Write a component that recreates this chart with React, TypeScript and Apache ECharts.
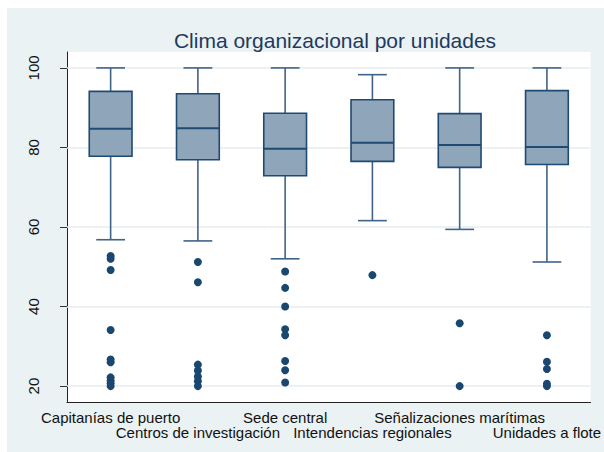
import React, { useEffect, useRef } from "react";
import * as echarts from "echarts";

const categories = [
  "Capitanías de puerto",
  "Centros de investigación",
  "Sede central",
  "Intendencias regionales",
  "Señalizaciones marítimas",
  "Unidades a flote",
];
const lowerWhisker = [56.8, 56.5, 52.0, 61.6, 59.4, 51.2];
const q1 = [77.8, 76.9, 72.9, 76.5, 75.0, 75.7];
const median = [84.7, 84.8, 79.7, 81.2, 80.6, 80.1];
const q3 = [94.1, 93.5, 88.6, 92.0, 88.5, 94.3];
const upperWhisker = [100, 100, 100, 98.3, 100, 100];
const outliers: number[][] = [
  [52.7, 52.0, 49.2, 34.1, 26.7, 26.0, 22.2, 21.4, 20.7, 20.0],
  [51.2, 46.1, 25.4, 23.9, 22.4, 21.2, 20.0],
  [48.8, 44.7, 40.0, 34.3, 32.8, 26.3, 24.0, 20.9],
  [47.9],
  [35.8, 20.0],
  [32.8, 26.1, 24.3, 20.6, 20.0],
];
const yTicks = [20, 40, 60, 80, 100];

export default function App() {
  const ref = useRef<HTMLDivElement>(null);
  useEffect(() => {
    if (!ref.current) return;
    const chart = echarts.init(ref.current, undefined, { renderer: "svg" });
    const boxData = categories.map((_, i) => [
      i,
      lowerWhisker[i],
      q1[i],
      median[i],
      q3[i],
      upperWhisker[i],
    ]);
    const outlierData: number[][] = [];
    outliers.forEach((arr, i) => arr.forEach((v) => outlierData.push([i, v])));

    const whiskerColor = "#3f6389";
    const boxBorder = "#1f4a72";

    chart.setOption({
      animation: false,
      backgroundColor: "#eaf2f3",
      title: {
        text: "Clima organizacional por unidades",
        left: 323,
        top: 17,
        textAlign: "center",
        textStyle: {
          fontFamily: "Liberation Sans, Arial, sans-serif",
          fontSize: 21,
          fontWeight: "normal",
          color: "#1e3a5f",
        },
      },
      grid: {
        left: 60,
        right: 12,
        top: 44,
        bottom: 50,
        show: true,
        backgroundColor: "#ffffff",
        borderWidth: 0,
      },
      xAxis: {
        type: "category",
        data: categories,
        boundaryGap: true,
        axisLine: { show: true, lineStyle: { color: "#222", width: 1 } },
        axisTick: { show: false },
        splitLine: { show: false },
        axisLabel: {
          interval: 0,
          margin: 8,
          fontFamily: "Liberation Sans, Arial, sans-serif",
          fontSize: 15,
          lineHeight: 15,
          color: "#111",
          formatter: (v: string, i: number) => (i % 2 === 1 ? "\n" + v : v),
        },
      },
      yAxis: {
        type: "value",
        min: 16,
        max: 104,
        axisLine: { show: true, lineStyle: { color: "#222", width: 1 } },
        axisTick: {
          show: true,
          length: 7,
          customValues: yTicks,
          lineStyle: { color: "#333", width: 1 },
        },
        splitLine: { show: false },
        axisLabel: {
          customValues: yTicks,
          rotate: 90,
          margin: 26,
          fontFamily: "Liberation Sans, Arial, sans-serif",
          fontSize: 15,
          color: "#111",
        },
      },
      series: [
        {
          type: "line",
          data: [],
          z: 0,
          silent: true,
          markLine: {
            z: 1,
            silent: true,
            symbol: ["none", "none"],
            label: { show: false },
            lineStyle: { color: "#e6eef1", width: 1.5, type: "solid" },
            data: yTicks.map((v) => ({ yAxis: v })),
          },
        },
        {
          type: "custom",
          z: 2,
          data: boxData,
          encode: { x: 0, y: [1, 2, 3, 4, 5] },
          renderItem: (params: any, api: any) => {
            const x = api.value(0);
            const pLow = api.coord([x, api.value(1)]);
            const pQ1 = api.coord([x, api.value(2)]);
            const pMed = api.coord([x, api.value(3)]);
            const pQ3 = api.coord([x, api.value(4)]);
            const pHigh = api.coord([x, api.value(5)]);
            const band = api.size([1, 0])[0];
            const bw = band * 0.49;
            const cw = band * 0.33;
            const cx = pMed[0];
            const wStyle = { stroke: whiskerColor, lineWidth: 1.6 };
            return {
              type: "group",
              children: [
                { type: "line", shape: { x1: cx, y1: pQ3[1], x2: cx, y2: pHigh[1] }, style: wStyle },
                { type: "line", shape: { x1: cx, y1: pQ1[1], x2: cx, y2: pLow[1] }, style: wStyle },
                { type: "line", shape: { x1: cx - cw / 2, y1: pHigh[1], x2: cx + cw / 2, y2: pHigh[1] }, style: wStyle },
                { type: "line", shape: { x1: cx - cw / 2, y1: pLow[1], x2: cx + cw / 2, y2: pLow[1] }, style: wStyle },
                {
                  type: "rect",
                  shape: { x: cx - bw / 2, y: pQ3[1], width: bw, height: pQ1[1] - pQ3[1] },
                  style: { fill: "#8fa5ba", stroke: boxBorder, lineWidth: 1.6 },
                },
                {
                  type: "line",
                  shape: { x1: cx - bw / 2, y1: pMed[1], x2: cx + bw / 2, y2: pMed[1] },
                  style: { stroke: boxBorder, lineWidth: 2 },
                },
              ],
            };
          },
        },
        {
          type: "scatter",
          z: 3,
          data: outlierData,
          symbol: "circle",
          symbolSize: 8,
          itemStyle: { color: "#1a476f", opacity: 1 },
        },
      ],
    });
    return () => chart.dispose();
  }, []);
  return (
    <div
      ref={ref}
      style={{ position: "absolute", left: 7, top: 8, width: 597, height: 444 }}
    />
  );
}
